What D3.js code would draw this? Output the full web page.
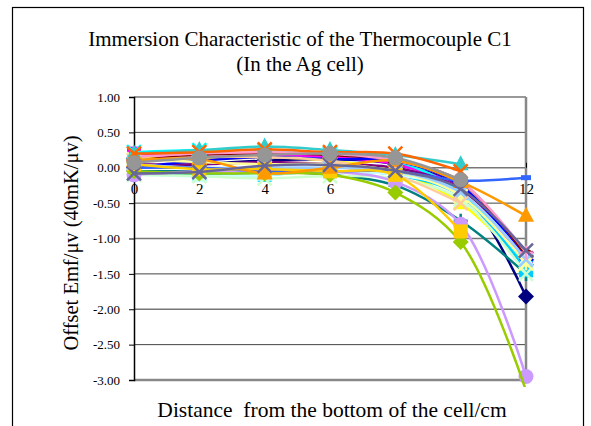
<!DOCTYPE html>
<html>
<head>
<meta charset="utf-8">
<script src="https://cdn.jsdelivr.net/npm/d3@7"></script>
<style>
  body { margin: 0; background: #fff; }
  text { font-family: "Liberation Serif", "Times New Roman", serif; }
</style>
</head>
<body>
<svg width="591" height="426"></svg>
<script>
// distances from the bottom of the cell (cm)
let distances = [0, 2, 4, 6, 8, 10, 12];
let yTicks = [1, 0.5, 0, -0.5, -1, -1.5, -2, -2.5, -3];

// one array per measurement run, null where nothing was recorded
let s01 = [0.00, 0.05, 0.10, 0.12, 0.05, -0.30, -1.82];
let s02 = [0.20, 0.15, 0.18, 0.15, 0.05, -0.30, -1.35];
let s03 = [0.15, 0.12, 0.15, 0.10, -0.05, -0.50, -1.38];
let s04 = [0.22, 0.25, 0.25, 0.20, 0.10, -0.35, -1.40];
let s05 = [0.05, 0.05, 0.08, 0.05, 0.00, -0.30, -1.28];
let s06 = [0.10, 0.18, 0.20, 0.18, 0.10, -0.20, -1.25];
let s07 = [-0.05, -0.05, -0.05, -0.10, -0.25, -0.75, -1.50];
let s08 = [0.00, 0.10, 0.15, 0.12, 0.10, -0.25, -1.30];
let s09 = [-0.05, -0.10, -0.10, -0.05, -0.10, -0.40, -1.45];
let s10 = [-0.10, -0.12, -0.10, -0.05, -0.10, -0.35, -1.30];
let s11 = [-0.10, -0.12, -0.15, -0.12, -0.15, -0.45, -1.50];
let s12 = [0.12, 0.08, 0.05, 0.05, -0.05, -0.40, -1.35];
let s13 = [0.05, 0.00, 0.00, 0.00, -0.05, -0.35, -1.30];
let s14 = [0.15, 0.20, 0.22, 0.20, 0.10, -0.20, -1.20];
let s15 = [-0.10, -0.05, -0.05, -0.05, -0.20, -0.80, -2.95];
let s16 = [0.10, 0.15, 0.15, 0.10, -0.10, -0.50, null];
let s17 = [0.00, 0.00, -0.05, -0.05, -0.05, -0.18, -0.14];
let s18 = [0.20, 0.25, 0.30, 0.25, 0.18, 0.05, null];
let s19 = [-0.05, -0.08, -0.08, -0.10, -0.35, -1.05, -3.15];
let s20 = [0.05, -0.02, -0.02, -0.05, -0.10, -0.90, null];
let s21 = [0.10, 0.12, -0.08, 0.00, 0.10, -0.20, -0.68];
let s22 = [0.20, 0.22, 0.26, 0.22, 0.20, -0.05, null];
let s23 = [-0.08, -0.06, 0.03, 0.04, -0.04, -0.30, -1.17];
let s24 = [0.07, 0.14, 0.18, 0.20, 0.14, -0.17, null];

let seriesValues = [s01, s02, s03, s04, s05, s06, s07, s08, s09, s10, s11, s12,
  s13, s14, s15, s16, s17, s18, s19, s20, s21, s22, s23, s24];
let seriesColors = ['#000080', '#FF00FF', '#FFFF00', '#00FFFF', '#800080', '#800000',
  '#008080', '#0000FF', '#00CCFF', '#CCFFFF', '#CCFFCC', '#FFFF99',
  '#99CCFF', '#FF99CC', '#CC99FF', '#FFCC99', '#3366FF', '#33CCCC',
  '#99CC00', '#FFCC00', '#FF9900', '#FF6600', '#666699', '#969696'];
let seriesMarkers = ['diamond', 'square', 'triangle', 'x', 'star', 'circle', 'plus',
  'diamond', 'square', 'triangle', 'x', 'star', 'x', 'plus',
  'circle', 'x', 'dash', 'triangle', 'diamond', 'square', 'triangle', 'x', 'x', 'circle'];

let serif = '"Liberation Serif", "Times New Roman", serif';

let svg = d3.select('svg');
let width = +svg.attr('width');
let height = +svg.attr('height');

// outer chart frame (runs off the bottom of the picture)
svg.append('rect')
  .attr('x', 12.5).attr('y', 7.5)
  .attr('width', 571).attr('height', 440)
  .attr('fill', 'none').attr('stroke', '#000').attr('stroke-width', 1.2);

let plot = { left: 134, right: 526, top: 97, bottom: 380 };

let x = d3.scaleLinear().domain([0, 12]).range([plot.left, plot.right]);
let y = d3.scaleLinear().domain([-3, 1]).range([plot.bottom, plot.top]);

// clip a little outside the plot area, like the spreadsheet does
svg.append('clipPath').attr('id', 'plotclip')
  .append('rect')
    .attr('x', plot.left - 10).attr('y', plot.top - 10)
    .attr('width', plot.right - plot.left + 20)
    .attr('height', plot.bottom - plot.top + 17);

// titles
svg.append('text')
  .attr('x', 300).attr('y', 46)
  .attr('text-anchor', 'middle')
  .style('font-size', '21px')
  .text('Immersion Characteristic of the Thermocouple C1');
svg.append('text')
  .attr('x', 300).attr('y', 71)
  .attr('text-anchor', 'middle')
  .style('font-size', '21px')
  .text('(In the Ag cell)');

// gridlines
svg.append('g')
  .selectAll('line')
  .data(yTicks)
  .enter().append('line')
    .attr('x1', plot.left).attr('x2', plot.right)
    .attr('y1', d => y(d)).attr('y2', d => y(d))
    .attr('stroke', (d, i) => i % 2 ? '#444' : '#777')
    .attr('stroke-width', (d, i) => i % 2 ? 1 : 1.5);

// plot border right / bottom in gray
svg.append('path')
  .attr('d', `M${plot.right},${plot.top}V${plot.bottom}H${plot.left}`)
  .attr('fill', 'none').attr('stroke', '#888').attr('stroke-width', 2.5);

// y axis
let yAxis = d3.axisLeft(y)
  .tickValues(yTicks)
  .tickSize(5)
  .tickFormat(d => d3.format('.2f')(d).replace('\u2212', '-'));
let gy = svg.append('g')
  .attr('transform', `translate(${plot.left},0)`)
  .call(yAxis)
  .attr('font-family', serif)
  .attr('font-size', 13);
gy.select('.domain').attr('stroke', '#000').attr('stroke-width', 1.5);
gy.selectAll('.tick text')
  .attr('x', -14)
  .attr('fill', '#000');

// x axis on the zero line
let xAxis = d3.axisTop(x)
  .tickValues(distances)
  .tickSize(5)
  .tickFormat(d3.format('d'));
let gx = svg.append('g')
  .attr('transform', `translate(0,${y(0)})`)
  .call(xAxis)
  .attr('font-family', serif)
  .attr('font-size', 15);
gx.select('.domain').remove();
gx.selectAll('.tick line').attr('stroke', '#000');
gx.selectAll('.tick text')
  .attr('y', 26)
  .attr('fill', '#000');

// axis titles
svg.append('text')
  .attr('transform', 'translate(78,243)rotate(-90)')
  .attr('text-anchor', 'middle')
  .style('font-size', '20.5px')
  .text('Offset Emf/\u03bcv (40mK/\u03bcv)');
svg.append('text')
  .attr('x', 332).attr('y', 417)
  .attr('text-anchor', 'middle')
  .style('font-size', '21.5px')
  .style('white-space', 'pre')
  .text('Distance  from the bottom of the cell/cm');

// series
let line = d3.line()
  .defined(d => d != null)
  .x((d, i) => x(distances[i]))
  .y(d => y(d))
  .curve(d3.curveCatmullRom.alpha(0.5));

function drawMarker(g, kind, color, cx, cy) {
  let r = 7;
  if (kind === 'circle') {
    g.append('circle').attr('cx', cx).attr('cy', cy).attr('r', 7.5).attr('fill', color);
  } else if (kind === 'square') {
    g.append('rect').attr('x', cx - 7).attr('y', cy - 7).attr('width', 14).attr('height', 14).attr('fill', color);
  } else if (kind === 'diamond') {
    g.append('path').attr('d', `M${cx},${cy - 8}L${cx + 8},${cy}L${cx},${cy + 8}L${cx - 8},${cy}Z`).attr('fill', color);
  } else if (kind === 'triangle') {
    g.append('path').attr('d', `M${cx},${cy - 9}L${cx + 8},${cy + 6}L${cx - 8},${cy + 6}Z`).attr('fill', color);
  } else if (kind === 'x') {
    g.append('path').attr('d', `M${cx - r},${cy - r}L${cx + r},${cy + r}M${cx - r},${cy + r}L${cx + r},${cy - r}`)
      .attr('stroke', color).attr('stroke-width', 2.5);
  } else if (kind === 'star') {
    g.append('path').attr('d', `M${cx - r},${cy - r}L${cx + r},${cy + r}M${cx - r},${cy + r}L${cx + r},${cy - r}M${cx},${cy - r}V${cy + r}`)
      .attr('stroke', color).attr('stroke-width', 2.5);
  } else if (kind === 'plus') {
    g.append('path').attr('d', `M${cx - r},${cy}H${cx + r}M${cx},${cy - r}V${cy + r}`)
      .attr('stroke', color).attr('stroke-width', 2.5);
  } else if (kind === 'dash') {
    g.append('path').attr('d', `M${cx - 5},${cy}H${cx + 5}`)
      .attr('stroke', color).attr('stroke-width', 5);
  }
}

seriesValues.forEach(function(vals, k) {
  let g = svg.append('g').attr('class', 'series').attr('clip-path', 'url(#plotclip)');
  g.append('path')
    .attr('d', line(vals))
    .attr('fill', 'none')
    .attr('stroke', seriesColors[k])
    .attr('stroke-width', 2.5);
  vals.forEach(function(v, i) {
    if (v == null || v < -3) return;  // off-scale points get no marker
    drawMarker(g, seriesMarkers[k], seriesColors[k], x(distances[i]), y(v));
  });
});
</script>
</body>
</html>
